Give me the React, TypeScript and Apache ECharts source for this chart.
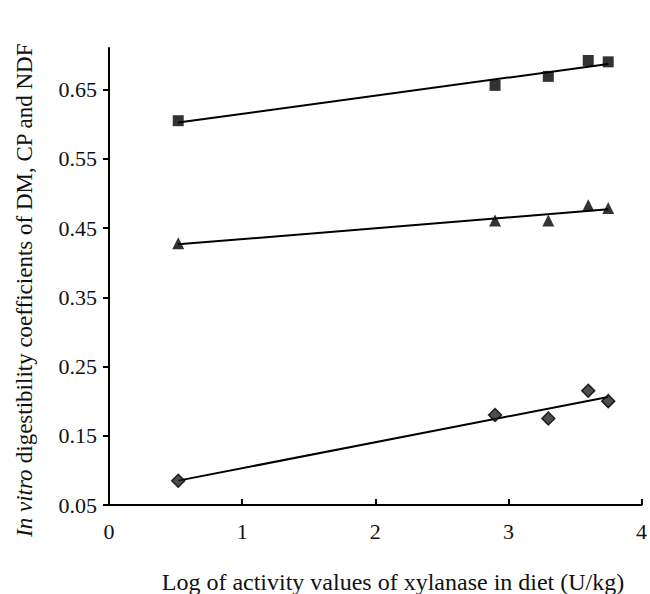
import React, { useEffect, useRef } from "react";
import * as echarts from "echarts";

const xValues = [0.52, 2.9, 3.3, 3.6, 3.75];
const ndfValues = [0.605, 0.656, 0.669, 0.692, 0.69];
const cpValues = [0.428, 0.461, 0.461, 0.483, 0.479];
const dmValues = [0.085, 0.18, 0.175, 0.215, 0.2];
const yTicks = [0.05, 0.15, 0.25, 0.35, 0.45, 0.55, 0.65];
const xTitle = "Log of activity values of xylanase in diet (U/kg)";

const FONT = "Liberation Serif";
const FS = 22;

function regression(xs: number[], ys: number[]): number[][] {
  const n = xs.length;
  const mx = xs.reduce((a, b) => a + b, 0) / n;
  const my = ys.reduce((a, b) => a + b, 0) / n;
  let sxy = 0;
  let sxx = 0;
  for (let i = 0; i < n; i++) {
    sxy += (xs[i] - mx) * (ys[i] - my);
    sxx += (xs[i] - mx) * (xs[i] - mx);
  }
  const b = sxy / sxx;
  const a = my - b * mx;
  const x0 = Math.min(...xs);
  const x1 = Math.max(...xs);
  return [
    [x0, a + b * x0],
    [x1, a + b * x1],
  ];
}

function pts(xs: number[], ys: number[]): number[][] {
  return xs.map((x, i) => [x, ys[i]]);
}

export default function App() {
  const ref = useRef<HTMLDivElement>(null);
  useEffect(() => {
    if (!ref.current) return;
    const chart = echarts.init(ref.current, null, { renderer: "svg" });
    const lineStyle = { color: "#000", width: 2 };
    const trend = (data: number[][]) => ({
      type: "line",
      data,
      symbol: "none",
      lineStyle,
      z: 2,
      silent: true,
    });
    chart.setOption({
      animation: false,
      backgroundColor: "#fff",
      textStyle: { fontFamily: FONT },
      grid: { left: 109, right: 6, top: 48, bottom: 89 },
      xAxis: {
        type: "value",
        min: 0,
        max: 4,
        interval: 1,
        axisLine: { lineStyle: { color: "#000", width: 2 } },
        axisTick: { inside: true, length: 6, lineStyle: { color: "#000", width: 2 } },
        axisLabel: { color: "#111", fontSize: FS, fontFamily: FONT, margin: 15 },
        splitLine: { show: false },
      },
      yAxis: {
        type: "value",
        min: 0.05,
        max: 0.71,
        interval: 0.1,
        axisLine: { show: true, lineStyle: { color: "#000", width: 2 } },
        axisTick: {
          show: true,
          inside: false,
          length: 6,
          lineStyle: { color: "#000", width: 2 },
          customValues: yTicks,
        },
        axisLabel: {
          color: "#111",
          fontSize: FS,
          fontFamily: FONT,
          margin: 12,
          customValues: yTicks,
          formatter: (v: number) => v.toFixed(2),
        },
        splitLine: { show: false },
      },
      graphic: [
        {
          type: "text",
          x: 393,
          y: 582,
          style: {
            text: xTitle,
            fill: "#111",
            fontSize: 24,
            fontFamily: FONT,
            textAlign: "center",
            textVerticalAlign: "middle",
          },
        },
        {
          type: "text",
          x: 24,
          y: 290,
          rotation: Math.PI / 2,
          style: {
            text: "{i|In vitro} digestibility coefficients of DM, CP and NDF",
            fill: "#111",
            fontSize: 23,
            fontFamily: FONT,
            textAlign: "center",
            textVerticalAlign: "middle",
            rich: {
              i: { fontStyle: "italic", fontSize: 23, fontFamily: FONT, fill: "#111" },
            },
          },
        },
      ],
      series: [
        trend(regression(xValues, ndfValues)),
        trend(regression(xValues, cpValues)),
        trend(regression(xValues, dmValues)),
        {
          type: "scatter",
          data: pts(xValues, ndfValues),
          symbol: "rect",
          symbolSize: 11,
          itemStyle: { color: "#000" },
          z: 3,
        },
        {
          type: "scatter",
          data: pts(xValues, cpValues),
          symbol: "triangle",
          symbolSize: 12,
          itemStyle: { color: "#000" },
          z: 3,
        },
        {
          type: "scatter",
          data: pts(xValues, dmValues),
          symbol: "diamond",
          symbolSize: 13,
          itemStyle: { color: "#222", borderColor: "#000", borderWidth: 1.5 },
          z: 3,
        },
      ],
    });
    return () => chart.dispose();
  }, []);
  return (
    <div
      ref={ref}
      style={{ position: "fixed", left: 0, top: 0, width: 650, height: 594 }}
    />
  );
}
